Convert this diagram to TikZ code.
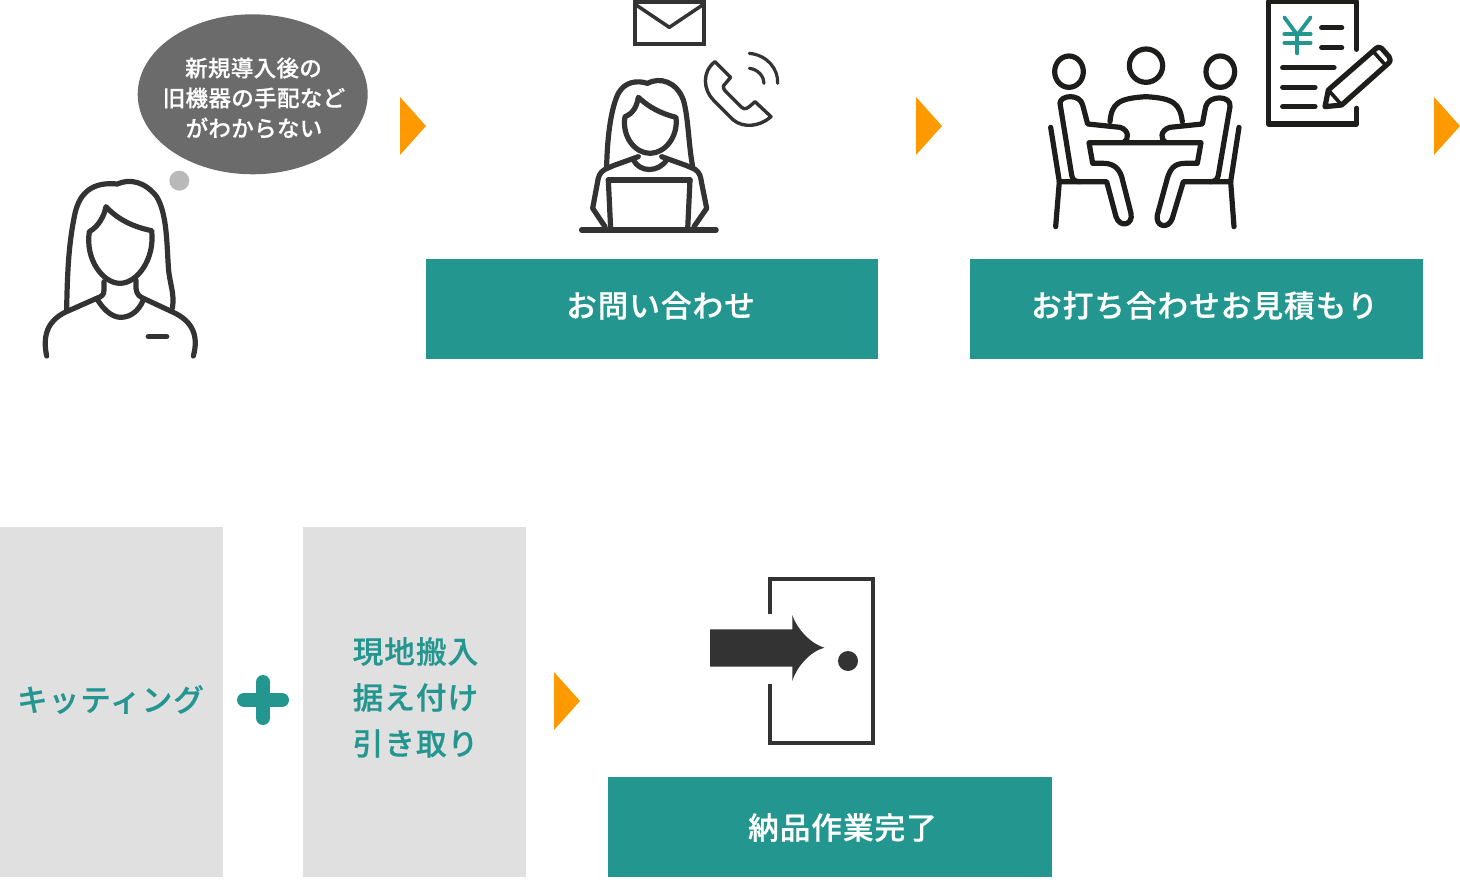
\documentclass[tikz,border=0pt]{standalone}
\usepackage{fontspec}
\newfontfamily\jpbtn[LetterSpace=3,FakeBold=0.5]{Noto Sans CJK JP Medium}
\newfontfamily\jpbub[LetterSpace=1.5,FakeBold=0.4]{Noto Sans CJK JP Medium}
\definecolor{teal1}{HTML}{239690}
\definecolor{gray1}{HTML}{E0E0E0}
\definecolor{ink}{HTML}{333333}
\definecolor{ink2}{HTML}{1D1D1B}
\definecolor{orange1}{HTML}{FF9900}
\definecolor{bub}{HTML}{6B6B6B}
\definecolor{dot1}{HTML}{B9B9B9}
\tikzset{
 tealbox/.style={fill=teal1,draw=none},
 graybox/.style={fill=gray1,draw=none},
 btnlabel/.style={text=white,font=\jpbtn\fontsize{30.7}{34}\selectfont,inner sep=0pt},
 graylabel/.style={text=teal1,font=\jpbtn\fontsize{30.7}{34}\selectfont,inner sep=0pt},
 bublabel/.style={text=white,font=\jpbub\fontsize{22.5}{30}\selectfont,inner sep=0pt,align=center},
 tri/.style={fill=orange1,draw=none},
 icon/.style={draw=ink,line width=5.2pt,line cap=round,line join=round},
 iconb/.style={draw=ink2,line width=5.2pt,line cap=round,line join=round},
}
\begin{document}
\begin{tikzpicture}[x=1pt,y=-1pt]
\useasboundingbox (0,0) rectangle (1460,880);
\clip (0,0) rectangle (1460,880);
% boxes
\fill[tealbox] (426,259) rectangle (878.2,359);
\fill[tealbox] (970.2,259) rectangle (1422.5,359);
\fill[tealbox] (608,777) rectangle (1052.4,877);
\fill[graybox] (0,526.5) rectangle (223,877);
\fill[graybox] (303,526.5) rectangle (526,877);
\node[btnlabel] (t1) at (660.5,305.5) {お問い合わせ};
\node[btnlabel] (t2) at (1204.5,305.5) {お打ち合わせお見積もり};
\node[btnlabel] (t3) at (842.5,827.5) {納品作業完了};
\node[graylabel] (g1) at (110.5,699.5) {キッティング};
\node[graylabel] (g2) at (415.5,651.5) {現地搬入};
\node[graylabel] (g3) at (415.5,697.5) {据え付け};
\node[graylabel] (g4) at (415.5,743.5) {引き取り};
% triangles
\fill[tri] (400,97)--(426,126)--(400,155)--cycle;
\fill[tri] (916,97)--(942,126)--(916,155)--cycle;
\fill[tri] (1434,97)--(1460,126)--(1434,155)--cycle;
\fill[tri] (554,672)--(580,701)--(554,730)--cycle;
% plus
\draw[teal1,line width=14pt,line cap=round] (244,700)--(282,700);
\draw[teal1,line width=14pt,line cap=round] (263,682)--(263,718);
% bubble
\fill[bub] (252.7,94.3) ellipse [x radius=115,y radius=80];
\fill[dot1] (179.3,180.7) circle (10);
\node[bublabel] (b1) at (253.5,68) {新規導入後の};
\node[bublabel] (b2) at (254,98) {旧機器の手配など};
\node[bublabel] (b3) at (254,128) {がわからない};
% person 1
\begin{scope}[shift={(30,0)},x=0.33333pt,y=-0.33333pt]
\draw[icon] (110,930) .. controls (112,800) and (118,720) .. (135,640) .. controls (150,575) and (190,545) .. (262,552) .. controls (300,535) and (345,545) .. (380,590) .. controls (410,640) and (410,720) .. (415,800) .. controls (418,850) and (435,880) .. (427,925);
\draw[icon] (228,620) .. controls (260,655) and (305,680) .. (365,692) .. controls (375,780) and (320,850) .. (270,850) .. controls (220,850) and (165,780) .. (178,695) .. controls (205,680) and (222,650) .. (228,620) -- cycle;
\draw[icon] (222,845) -- (222,870) .. controls (222,885) and (215,890) .. (200,895) -- (105,937) .. controls (50,965) and (38,1010) .. (50,1068);
\draw[icon] (318,840) -- (318,865) .. controls (320,885) and (330,890) .. (340,895) -- (430,937) .. controls (490,965) and (506,1010) .. (490,1068);
\draw[icon] (203,900) .. controls (225,935) and (250,952) .. (272,952) .. controls (300,952) and (325,935) .. (340,900);
\draw[icon,line width=5.5pt] (355,1010)--(410,1010);
\end{scope}
% person 2
\begin{scope}[shift={(570,0)},x=0.33333pt,y=-0.33333pt]
\draw[icon,line width=4.2pt,line cap=butt,line join=miter] (194,5) rectangle (402,133);
\draw[icon,line width=3.5pt] (194,12)--(298,82)--(402,12);
\draw[icon,line width=3.4pt] (435,185) -- (482,232) -- (460,258) .. controls (460,265) and (462,270) .. (470,277) -- (515,322) .. controls (525,330) and (530,328) .. (555,305) -- (603,350) .. controls (570,380) and (520,385) .. (490,360) -- (430,300) .. controls (400,270) and (395,215) .. (435,185) -- cycle;
\draw[icon,line width=3.2pt] (538,205) .. controls (565,208) and (582,230) .. (582,250);
\draw[icon,line width=3.2pt] (538,160) .. controls (590,165) and (625,205) .. (623,250);
\draw[icon] (110,500) .. controls (112,400) and (125,320) .. (145,280) .. controls (165,245) and (200,240) .. (232,250) .. controls (270,230) and (320,245) .. (340,300) .. controls (355,350) and (355,430) .. (368,500);
\draw[icon] (205,292) .. controls (235,320) and (270,340) .. (318,352) .. controls (325,410) and (285,460) .. (240,460) .. controls (195,460) and (155,410) .. (165,350) .. controls (190,340) and (200,320) .. (205,292) -- cycle;
\draw[icon] (205,470) -- (130,497) -- (105,508) .. controls (88,518) and (85,530) .. (82,550) -- (68,625) -- (105,680);
\draw[icon] (275,470) -- (350,497) -- (375,508) .. controls (390,518) and (392,530) .. (395,550) -- (410,625) -- (372,680);
\draw[icon] (190,480) .. controls (210,518) and (265,518) .. (290,480);
\draw[icon,line width=5.5pt] (115,540)--(360,540);
\draw[icon] (115,540)--(122,688);
\draw[icon] (360,540)--(353,688);
\draw[icon,line width=5.5pt] (35,690)--(438,690);
\end{scope}
% meeting + document
\begin{scope}[shift={(1040,0)},x=0.33333pt,y=-0.33333pt]
\draw[iconb] (87,215) ellipse [x radius=43,y radius=47];
\draw[iconb] (318,197) circle (50);
\draw[iconb] (541,215) ellipse [x radius=43,y radius=47];
\draw[iconb] (250,428) .. controls (268,420) and (268,390) .. (240,382) -- (143,372) -- (128,315) .. controls (120,280) and (60,285) .. (60,310) -- (95,525) .. controls (97,540) and (105,545) .. (120,545) -- (200,545) -- (228,650) .. controls (240,685) and (280,675) .. (273,640) -- (245,530) .. controls (235,500) and (215,490) .. (190,490) -- (158,490) -- (147,428) -- (483,428) -- (472,490) -- (435,490) .. controls (400,490) and (390,510) .. (382,535) -- (352,645) .. controls (345,680) and (385,690) .. (397,655) -- (430,545) -- (510,545) .. controls (525,545) and (532,540) .. (535,525) -- (570,320) .. controls (575,285) and (505,285) .. (497,320) -- (487,372) -- (390,382) .. controls (360,390) and (360,420) .. (378,428);
\draw[iconb] (210,365) .. controls (215,310) and (235,295) .. (318,290) .. controls (400,295) and (420,310) .. (427,365);
\draw[iconb] (32,382) -- (58,545) -- (120,545);
\draw[iconb] (58,545) -- (47,680);
\draw[iconb] (597,382) -- (572,545) -- (510,545);
\draw[iconb] (572,545) -- (582,680);
\draw[iconb] (950,148) -- (950,5) -- (686,5) -- (686,372) -- (950,372) -- (950,325);
\draw[iconb] (845,83)--(905,83);
\draw[iconb] (845,143)--(905,143);
\draw[iconb] (728,203)--(882,203);
\draw[iconb] (728,262)--(825,262);
\draw[iconb] (728,320)--(825,320);
\draw[iconb,line width=3.8pt,draw=teal1] (733,52)--(772,105)--(812,52);
\draw[iconb,line width=3.8pt,draw=teal1] (772,105)--(772,160);
\draw[iconb,line width=3.8pt,draw=teal1] (733,102)--(812,102);
\draw[iconb,line width=3.8pt,draw=teal1] (733,128)--(812,128);
\draw[iconb] (855,320) -- (865,270) -- (1005,148) .. controls (1013,140) and (1020,140) .. (1025,145) -- (1047,170) .. controls (1052,177) and (1052,183) .. (1045,190) -- (905,315) -- cycle;
\draw[iconb,line width=3.6pt] (865,270)--(905,315);
\draw[iconb,line width=3.6pt] (1000,155)--(1038,197);
\end{scope}
% door
\begin{scope}[shift={(690,565)},x=0.33333pt,y=-0.33333pt]
\draw[icon,line width=4.2pt,line cap=butt,line join=miter] (239,148)--(239,42)--(548,42)--(548,533)--(239,533)--(239,358);
\fill[ink] (60,193)--(307,193)--(307,150) .. controls (320,190) and (360,235) .. (403,248) .. controls (360,260) and (320,305) .. (307,348) -- (307,305)--(60,305)--cycle;
\fill[ink] (474,288) circle (30);
\end{scope}
\end{tikzpicture}
\end{document}
